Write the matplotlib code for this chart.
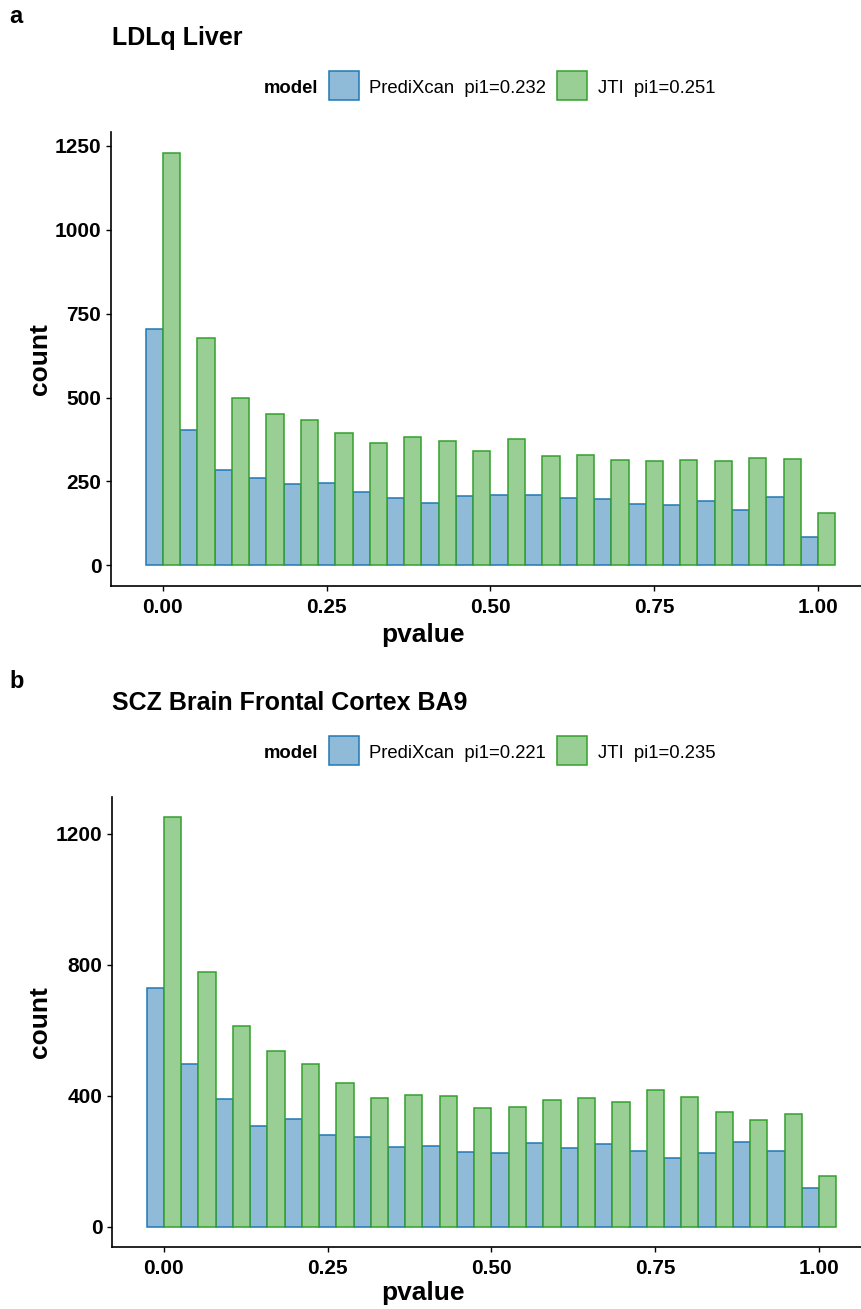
import numpy as np
import matplotlib
matplotlib.use("Agg")
import matplotlib.pyplot as plt
from matplotlib.patches import Rectangle

plt.rcParams['font.family'] = ['Liberation Sans', 'DejaVu Sans']

# ---- data ----
n_bins = 20
bin_centers = np.arange(n_bins) / (n_bins - 1)   # histogram bin centres (pvalue)
bin_width = 1 / (n_bins - 1)

ldl_predixcan = [704, 403, 285, 259, 241, 244, 220, 202, 185, 207,
                 211, 211, 201, 198, 183, 180, 193, 164, 204, 86]
ldl_jti = [1230, 678, 500, 450, 434, 395, 364, 384, 371, 340,
           376, 326, 330, 314, 311, 314, 311, 320, 318, 156]

scz_predixcan = [728, 496, 389, 306, 327, 279, 274, 244, 247, 228,
                 226, 255, 239, 252, 231, 209, 226, 258, 231, 119]
scz_jti = [1249, 778, 612, 537, 496, 437, 391, 402, 399, 361,
           365, 386, 391, 381, 418, 394, 351, 324, 345, 155]

panels = [
    dict(letter="a", title="LDLq Liver", pred=ldl_predixcan, jti=ldl_jti,
         pi_pred="0.232", pi_jti="0.251",
         yticks=[0, 250, 500, 750, 1000, 1250]),
    dict(letter="b", title="SCZ Brain Frontal Cortex BA9", pred=scz_predixcan, jti=scz_jti,
         pi_pred="0.221", pi_jti="0.235",
         yticks=[0, 400, 800, 1200]),
]
xticks = [0.0, 0.25, 0.5, 0.75, 1.0]
xtick_labels = ["0.00", "0.25", "0.50", "0.75", "1.00"]

blue_edge = "#1F78B4"
green_edge = "#33A02C"
blue_fill = "#8FBBD9"
green_fill = "#99CF95"

W, H = 861, 1309
fig = plt.figure(figsize=(W / 100, H / 100), dpi=100)

def fx(px):
    return px / W

def fy(py):
    return 1 - py / H

# axes pixel boxes (left, top, right, bottom)
boxes = [(111, 132, 870, 586), (112, 797, 871, 1247)]
offsets = [0, 665]
xlabel_baseline = [642, 1300]

for p, (l, t, r, b), off, xlb in zip(panels, boxes, offsets, xlabel_baseline):
    ax = fig.add_axes([fx(l), fy(b), fx(r - l), (b - t) / H])
    ax.bar(bin_centers - bin_width / 2, p["pred"], width=bin_width / 2, align="edge",
           color=blue_fill, edgecolor=blue_edge, linewidth=1.1, zorder=2)
    ax.bar(bin_centers, p["jti"], width=bin_width / 2, align="edge",
           color=green_fill, edgecolor=green_edge, linewidth=1.1, zorder=3)
    lo = -bin_width / 2
    hi = 1 + bin_width / 2
    span = hi - lo
    ax.set_xlim(lo - 0.05 * span, hi + 0.05 * span)
    ymax = max(max(p["pred"]), max(p["jti"]))
    ax.set_ylim(-0.05 * ymax, 1.05 * ymax)
    ax.set_xticks(xticks)
    ax.set_xticklabels(xtick_labels)
    ax.set_yticks(p["yticks"])
    for s in ["top", "right"]:
        ax.spines[s].set_visible(False)
    for s in ["left", "bottom"]:
        ax.spines[s].set_linewidth(1.2)
    ax.tick_params(axis="both", length=3.5, width=1.0, labelsize=15)
    ax.tick_params(axis="x", pad=5)
    ax.tick_params(axis="y", pad=3.5)
    for lab in ax.get_xticklabels() + ax.get_yticklabels():
        lab.set_fontweight("bold")

    # axis titles
    fig.text(fx(423), fy(xlb), "pvalue", fontsize=19, fontweight="bold",
             ha="center", va="baseline")
    fig.text(fx(47), fy((t + b) / 2), "count", fontsize=19, fontweight="bold",
             ha="center", va="baseline", rotation=90, rotation_mode="anchor")

    # panel letter and title
    fig.text(fx(9), fy(23 + off), p["letter"], fontsize=17, fontweight="bold",
             ha="left", va="baseline")
    fig.text(fx(112), fy(45 + off), p["title"], fontsize=18, fontweight="bold",
             ha="left", va="baseline")

    # legend (top, horizontal)
    fig.text(fx(264), fy(93 + off), "model", fontsize=13.3, fontweight="bold",
             ha="left", va="baseline")
    for (bx, fc, ec, tx, label) in [
        (329, blue_fill, blue_edge, 369, f"PrediXcan  pi1={p['pi_pred']}"),
        (557, green_fill, green_edge, 598, f"JTI  pi1={p['pi_jti']}"),
    ]:
        fig.patches.append(Rectangle((fx(bx), fy(100 + off)), fx(30), 29 / H,
                                     transform=fig.transFigure, facecolor=fc,
                                     edgecolor=ec, linewidth=1.1))
        fig.text(fx(tx), fy(93 + off), label, fontsize=13.3, ha="left", va="baseline")

fig.savefig("out.png", dpi=100)
